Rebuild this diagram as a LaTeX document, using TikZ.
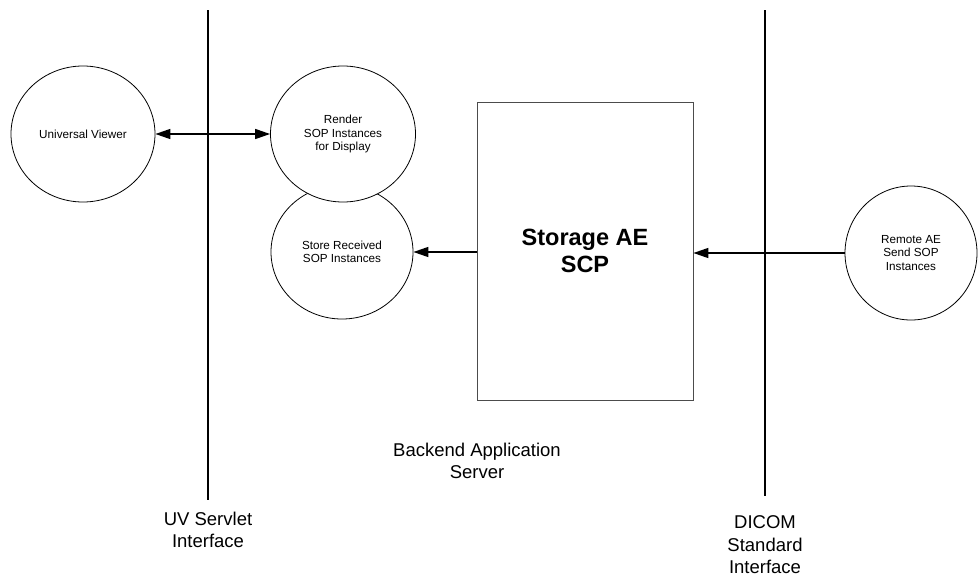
\documentclass[tikz,border=0pt]{standalone}
\usepackage{fontspec}
\setmainfont{Liberation Sans}
\usetikzlibrary{shapes.geometric,arrows.meta}
\tikzset{
  proc/.style={draw=black, line width=0.8pt, ellipse, fill=white, inner sep=0pt, align=center, font=\fontsize{11.7}{13.5}\selectfont},
  iface/.style={line width=2pt},
  flow/.style={line width=1.5pt, -{Triangle[length=15pt,width=10pt]}},
  lbl/.style={align=center, font=\fontsize{18.5}{22.5}\selectfont},
}
\begin{document}
\begin{tikzpicture}[x=1pt,y=-1pt]
\useasboundingbox (0,0) rectangle (979,576);
% interface lines
\coordinate (l1) at (208,10);
\coordinate (l2) at (208,500);
\coordinate (r1) at (765,10);
\coordinate (r2) at (765,496);
\draw[iface] (l1) -- (l2);
\draw[iface] (r1) -- (r2);
% nodes
\node[proc, minimum width=144pt, minimum height=136pt] (uv) at (83,134) {Universal Viewer};
\node[proc, minimum width=142pt, minimum height=134pt] (store) at (342,252) {Store Received\\SOP Instances};
\node[proc, minimum width=145pt, minimum height=136pt] (render) at (343,134) {Render\\SOP Instances\\for Display};
\node[draw=black!70, line width=0.8pt, minimum width=216pt, minimum height=298pt, inner sep=0pt, align=center, font=\fontsize{23.5}{27}\selectfont\bfseries] (box) at (585,251) {Storage AE\\SCP};
\node[proc, minimum width=132pt, minimum height=134pt] (remote) at (911,253) {Remote AE\\Send SOP\\Instances};
% connectors
\draw[flow, {Triangle[length=15pt,width=10pt]}-{Triangle[length=15pt,width=10pt]}] (uv.east) -- (render.west);
\draw[flow] (box.west |- store.east) -- (store.east);
\draw[flow] (remote.west) -- (box.east |- remote.west);
% labels
\node[lbl] (backend) at (477,461) {Backend Application\\Server};
\node[lbl] (uvl) at (208,530) {UV Servlet\\Interface};
\node[lbl] (dicom) at (765,545) {DICOM\\Standard\\Interface};
\end{tikzpicture}
\end{document}
